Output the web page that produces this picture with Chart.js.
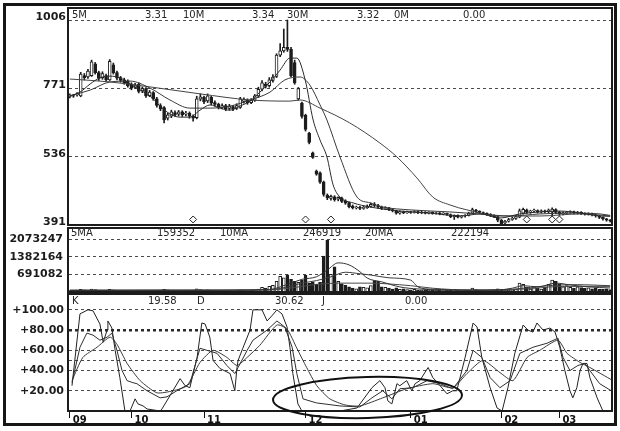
<!DOCTYPE html>
<html><head><meta charset="utf-8">
<script src="https://cdn.jsdelivr.net/npm/chart.js@4.4.1/dist/chart.umd.min.js"></script>
<style>
html,body{margin:0;padding:0;background:#fff;}
#wrap{position:relative;width:620px;height:431px;overflow:hidden;background:#fff;}
canvas{position:absolute;left:0;}
#frame{position:absolute;left:3px;top:3px;width:608px;height:417px;border:3px solid #161616;pointer-events:none;}
</style></head><body>
<div id="wrap">
<canvas id="cPrice" width="620" height="226" style="top:0"></canvas>
<canvas id="cVol" width="620" height="68" style="top:226px"></canvas>
<canvas id="cKdj" width="620" height="139" style="top:292px"></canvas>
<div id="frame"></div>
</div>
<script>
// ---------- DATA ----------
const N = 150; // trading days shown
const openP = [742,746,748,745,815,810,815,855,825,808,
815,800,852,825,808,800,795,785,774,785,
762,770,746,756,735,712,705,668,675,688,
682,690,682,685,676,670,734,740,728,740,
722,716,706,712,702,708,702,705,726,730,
722,730,745,768,786,780,798,812,885,900,
912,905,860,735,720,678,616,549,486,480,
449,404,392,398,390,394,384,378,366,360,
362,358,361,365,372,368,362,358,360,354,
350,342,346,343,346,344,347,343,345,342,
345,341,343,339,341,337,330,334,328,332,
334,342,352,348,344,341,338,334,330,318,
308,314,320,324,328,342,352,345,349,351,
346,350,347,345,354,345,340,343,345,347,
343,345,341,339,340,336,332,327,322,318];
const closeP = [748,744,752,820,808,830,862,825,805,822,
800,864,825,806,798,790,780,772,782,760,
770,745,758,735,712,700,662,680,690,680,
690,680,686,675,668,735,742,725,745,720,
716,706,712,700,710,700,712,735,732,722,
730,745,768,790,778,800,810,885,900,912,
905,815,790,770,674,630,585,533,476,448,
406,394,400,388,396,382,376,364,360,363,
358,362,366,372,368,362,358,360,354,350,
342,347,343,346,344,347,343,345,342,345,
341,343,339,341,337,330,334,328,332,334,
342,354,348,344,341,338,334,330,318,306,
314,320,324,330,350,355,345,349,352,346,
350,347,352,356,344,340,343,345,347,343,
345,341,339,340,336,332,327,322,318,315];
const highP = [752,750,756,826,822,836,868,860,830,828,
820,870,858,830,812,806,800,790,788,790,
776,774,764,760,740,718,708,686,696,694,
695,694,692,690,680,744,752,744,752,744,
728,720,718,716,716,712,718,740,738,735,
736,750,775,798,792,808,818,890,925,975,
1006,912,868,774,724,682,620,552,490,484,
452,408,404,402,398,397,388,380,370,366,
365,366,370,377,378,372,366,364,362,356,
352,350,349,349,348,350,349,348,347,347,
346,345,344,344,342,339,336,336,334,337,
345,359,355,350,346,343,340,336,332,320,
317,324,328,334,356,359,356,352,356,353,
353,352,356,360,357,348,346,348,350,349,
348,347,343,343,342,338,334,329,324,320];
const lowP = [738,740,744,742,800,805,812,820,798,802,
795,798,820,800,792,785,775,766,770,755,
756,740,742,730,706,694,652,662,670,674,
676,674,676,668,658,666,728,718,722,714,
710,700,700,694,696,694,698,702,720,716,
718,726,740,762,772,775,792,808,880,895,
898,810,785,730,668,624,580,530,472,444,
400,388,386,383,384,378,372,360,356,356,
354,355,358,362,364,358,354,354,350,346,
338,338,340,341,341,342,340,340,339,339,
338,338,336,336,334,326,320,325,325,328,
332,340,344,341,338,334,330,326,312,301,
303,311,317,320,326,338,340,341,345,342,
342,343,343,330,340,334,336,339,341,339,
339,337,335,335,332,328,323,318,314,311];

// price moving averages (day index, value)
const ma5Idx = [0,2.8,5.6,8.3,11.1,13.8,16.6,19.4,22.1,24.9,27.6,30.4,33.1,35.9,38.7,41.4,44.2,46.9,49.7,52.4,55.2,58,60.7,62.6,64.9,67.1,69,70.9,72.6,74.5,78.1,82.8,91,99.3,107.6,113.1,118.6,124.1,129.6,135.1,140.7,146.2,149];
const ma5Val = [745,758,786,807,813,807,786,765,745,710,683,672,672,696,714,703,696,710,727,758,793,834,875,875,800,662,593,535,439,397,377,363,349,342,332,339,325,339,346,349,342,332,331];
const ma10Idx = [0,5.6,11.1,16.6,22.1,27.6,33.1,38.7,44.2,49.7,55.2,59.3,63.5,66.2,69,70.9,74.5,79.2,82.8,86.3,93.8,104.8,113.1,121.4,129.6,137.9,146.2,149];
const ma10Val = [745,765,793,796,772,731,703,703,710,731,758,800,810,782,714,662,535,397,377,363,353,346,339,332,339,342,339,334];
const ma30Idx = [0,11.1,22.1,35.9,49.7,60.7,63.5,69,77.2,85.5,90.2,95.7,100.1,104.8,109.5,118.6,129.6,140.7,149];
const ma30Val = [803,793,776,752,731,727,731,703,652,583,535,463,397,370,353,332,332,339,332];
const signalIdx = [34,65,72,126,133,135];

const volume = [60000,55000,70000,110000,90000,80000,120000,95000,70000,60000,
65000,110000,90000,70000,60000,55000,60000,50000,55000,65000,
60000,70000,55000,60000,75000,80000,110000,90000,70000,60000,
55000,50000,60000,55000,70000,130000,100000,80000,90000,70000,
60000,55000,50000,60000,55000,50000,60000,90000,70000,60000,
70000,90000,120000,180000,150000,220000,260000,420000,620000,560000,
680000,500000,420000,380000,460000,670000,350000,400000,300000,380000,
1420000,2050000,700000,990000,420000,320000,260000,200000,150000,130000,
200000,180000,160000,250000,450000,420000,200000,180000,150000,120000,
160000,110000,130000,100000,90000,110000,80000,70000,90000,75000,
65000,80000,70000,60000,75000,90000,110000,70000,60000,65000,
80000,150000,100000,70000,65000,60000,70000,90000,130000,110000,
80000,70000,90000,110000,350000,300000,180000,120000,200000,150000,
120000,180000,300000,470000,420000,320000,200000,250000,180000,150000,
200000,170000,140000,160000,130000,150000,120000,110000,130000,100000];
const volMa5Idx = [0,20,40,55,60,64,68,71,74,77,80,82,86,91,96,110,118,122,125,129,134,138,143,149];
const volMa5Val = [60000,70000,70000,100000,300000,500000,600000,870000,1150000,1070000,800000,550000,400000,200000,120000,70000,80000,150000,250000,200000,350000,280000,200000,159352];
const volMa10Idx = [0,30,55,60,64,68,72,76,80,83,88,94,96,100,115,122,127,133,140,149];
const volMa10Val = [70000,70000,90000,200000,350000,450000,600000,780000,720000,670000,560000,470000,200000,110000,75000,110000,180000,260000,290000,246919];
const volMa20Idx = [0,55,62,68,74,82,94,100,110,120,128,136,149];
const volMa20Val = [70000,80000,180000,300000,350000,350000,250000,150000,80000,80000,150000,220000,222194];

const kIdx = [0.6,2.8,4.7,6.4,8.3,10.3,11.6,13.0,14.4,15.8,17.4,18.5,21.3,24.9,26.8,29.5,33.1,35.9,37.8,40.6,43.3,45.5,46.4,48.9,50.5,54.4,57.1,59.3,61.3,62.6,64.3,68.0,74.5,80.0,83.3,86.3,88.8,91.0,94.6,98.5,102.1,105.6,109.5,111.2,113.6,115.9,118.6,121.4,124.1,127.7,131.6,134.6,136.0,137.9,140.1,142.0,143.4,146.1,149.5];
const kVal = [28,63,77,75,70,73,77,60,40,30,28,27,20,13,14,20,27,62,60,57,45,37,43,60,70,80,89,83,63,37,12,8,5,4,13,20,12,22,23,30,27,22,40,60,53,33,23,30,57,63,67,72,53,40,45,47,40,27,19.58];
const dIdx = [0.6,3.6,7.5,11.1,13.0,15.8,19.4,24.0,28.5,32.3,35.9,39.5,43.3,46.1,48.9,52.4,57.1,59.9,62.6,65.3,68.1,71.7,75.9,80.0,86.3,92.9,100.1,105.6,109.5,113.9,118.6,122.2,126.1,129.6,134.6,137.1,140.7,143.4,149.5];
const dVal = [30,53,63,73,66,47,30,18,20,25,48,60,53,45,53,65,85,81,62,43,25,12,6,5,13,22,27,23,37,50,38,30,53,60,70,57,48,43,30.62];
const jIdx = [0.6,2.8,5.0,6.4,8.3,9.2,10.3,10.5,11.6,12.5,13.8,15.2,16.6,18.0,18.8,20.2,21.3,24.9,25.4,27.6,30.4,31.8,33.1,35.1,36.4,37.3,38.6,39.5,41.4,44.2,45.5,46.1,46.4,47.7,49.7,50.5,53.0,54.4,55.7,57.1,58.5,59.9,60.7,61.5,62.9,64.0,74.5,79.2,83.3,85.5,86.9,87.7,88.8,90.2,91.0,92.9,94.3,95.2,96.5,98.8,100.1,102.1,104.0,105.6,106.7,109.0,111.2,112.3,113.6,115.9,117.8,119.2,120.8,122.7,125.0,126.3,127.7,128.8,130.5,132.4,133.8,135.1,136.5,137.9,138.7,139.8,140.7,141.5,142.6,143.4,145.4,147.0,149.5];
const jVal = [25,96,100,99,86,68,80,89,82,60,33,0,0,12,7,5,2,0,2,15,32,25,23,53,87,86,73,50,42,37,20,43,50,62,80,100,100,89,94,100,96,83,63,37,7,0,0,3,23,30,23,10,7,27,25,30,20,27,30,43,33,25,17,20,20,53,87,83,53,23,3,0,23,57,85,80,78,87,80,82,78,63,40,20,13,23,40,47,47,33,13,0,0];

// axis ticks and texts
const priceTicks = [301,536,771,1006];
const priceTickLabels = ['391','536','771','1006'];
const volTicks = [691082,1382164,2073247];
const kdjTicks = [20,40,50,60,80,100];
const kdjTickLabels = ['+20.00','+40.00','','+60.00','+80.00','+100.00'];
const monthTicks = [0,17,37,65,94,119,135];
const monthLabels = ['09','10','11','12','01','02','03'];
const priceHeader = ['5M','3.31','10M','3.34','30M','3.32','0M','0.00'];
const volHeader = ['5MA','159352','10MA','246919','20MA','222194'];
const kdjHeader = ['K','19.58','D','30.62','J','0.00'];

// ---------- LAYOUT / STYLE ----------
Chart.defaults.font.family = '"DejaVu Sans", sans-serif';
const INK = '#1c1c1c';
const GRID = '#4a4a4a';
const SIGNAL_LEVEL = 320;
const dayIdx = Array.from({length: N}, (_, i) => i);
const pts = (idx, val) => idx.map((x, k) => ({x, y: val[k]}));
const fixW = s => { s.width = 68; s.paddingTop = 0; s.paddingBottom = 0; };

const framePlugin = { id: 'frame', afterDraw(chart) {
  const {ctx, chartArea: a} = chart;
  ctx.save(); ctx.strokeStyle = INK; ctx.lineWidth = 2;
  ctx.strokeRect(a.left, a.top, a.right - a.left, a.bottom - a.top);
  ctx.restore();
}};
function headerPlugin(texts, xs, y, size) {
  return { id: 'hdr', afterDraw(chart) {
    const ctx = chart.ctx; ctx.save();
    ctx.font = size + 'px "DejaVu Sans"'; ctx.fillStyle = '#262626';
    ctx.textBaseline = 'middle'; ctx.textAlign = 'left';
    texts.forEach((t, k) => ctx.fillText(t, xs[k], y));
    ctx.restore();
  }};
}
const ellipsePlugin = { id: 'ellipse', afterDraw(chart) {
  const ctx = chart.ctx; ctx.save();
  ctx.strokeStyle = '#111'; ctx.lineWidth = 2;
  ctx.beginPath(); ctx.ellipse(367.5, 105.5, 94.5, 20.5, -0.025, 0, Math.PI * 2); ctx.stroke();
  ctx.restore();
}};

const baseOpts = (padding) => ({
  responsive: false, animation: false, devicePixelRatio: 1, events: [],
  layout: { padding, autoPadding: false },
  plugins: { legend: { display: false }, tooltip: { enabled: false } }
});
const hiddenX = { type: 'linear', min: -0.5, max: N - 0.5, display: false, offset: false };
const lineDs = (data, color, order) => ({ type: 'line', data, borderColor: color, borderWidth: 1,
  pointRadius: 0, cubicInterpolationMode: 'monotone', order });

// ---------- PRICE PANEL ----------
const upDown = dayIdx.map(i => closeP[i] >= openP[i]);
new Chart(document.getElementById('cPrice'), {
  type: 'bar',
  data: { datasets: [
    lineDs(pts(ma5Idx, ma5Val), '#2a2a2a', 1),
    lineDs(pts(ma10Idx, ma10Val), '#3a3a3a', 1),
    lineDs(pts(ma30Idx, ma30Val), '#444', 1),
    { type: 'line', data: signalIdx.map(i => ({x: i, y: SIGNAL_LEVEL})), showLine: false,
      pointStyle: 'rectRot', pointRadius: 3.5, pointBackgroundColor: '#fff',
      pointBorderColor: '#222', pointBorderWidth: 1, order: 0 },
    { type: 'bar', data: dayIdx.map(i => ({x: i, y: [Math.min(openP[i], closeP[i]), Math.max(openP[i], closeP[i])]})),
      backgroundColor: upDown.map(u => u ? '#fff' : INK), borderColor: INK, borderWidth: 1,
      borderSkipped: false, barThickness: 3, grouped: false, order: 2 },
    { type: 'bar', data: dayIdx.map(i => ({x: i, y: [lowP[i], highP[i]]})),
      backgroundColor: INK, borderWidth: 0, barThickness: 1, grouped: false, order: 3 }
  ]},
  options: Object.assign(baseOpts({left: 0, right: 8, top: 8, bottom: 1}), {
    scales: {
      x: hiddenX,
      y: { min: 301, max: 1047.3, afterFit: fixW,
        afterBuildTicks: s => { s.ticks = priceTicks.map(v => ({value: v})); },
        ticks: { callback: (v, i) => priceTickLabels[i], color: INK, padding: 2, labelOffset: -3,
          font: { family: 'DejaVu Sans', weight: 'bold', size: 11 } },
        grid: { color: GRID, lineWidth: 1, drawTicks: false },
        border: { display: true, color: INK, width: 2, dash: [3, 3] } }
    }
  }),
  plugins: [framePlugin, headerPlugin(priceHeader, [72,145,183,252,287,357,394,463], 15, 10)]
});

// ---------- VOLUME PANEL ----------
new Chart(document.getElementById('cVol'), {
  type: 'bar',
  data: { datasets: [
    lineDs(pts(volMa5Idx, volMa5Val), '#333', 1),
    lineDs(pts(volMa10Idx, volMa10Val), '#3c3c3c', 1),
    lineDs(pts(volMa20Idx, volMa20Val), '#484848', 1),
    { type: 'bar', data: dayIdx.map(i => ({x: i, y: volume[i]})),
      backgroundColor: upDown.map(u => u ? '#fff' : INK), borderColor: INK, borderWidth: 1,
      borderSkipped: false, barThickness: 3, grouped: false, order: 2 }
  ]},
  options: Object.assign(baseOpts({left: 0, right: 8, top: 2, bottom: 2}), {
    scales: {
      x: hiddenX,
      y: { min: 0, max: 2527000, afterFit: fixW,
        afterBuildTicks: s => { s.ticks = volTicks.map(v => ({value: v})); },
        ticks: { callback: v => String(v), color: INK, padding: 5,
          font: { family: 'DejaVu Sans', weight: 'bold', size: 11 } },
        grid: { color: GRID, lineWidth: 1, drawTicks: false },
        border: { display: true, color: INK, width: 2, dash: [3, 3] } }
    }
  }),
  plugins: [framePlugin, headerPlugin(volHeader, [71,157,220,303,365,451], 7, 10)]
});

// ---------- KDJ PANEL ----------
new Chart(document.getElementById('cKdj'), {
  type: 'line',
  data: { datasets: [
    { data: pts(kIdx, kVal), borderColor: '#2e2e2e', borderWidth: 1, pointRadius: 0, tension: 0 },
    { data: pts(dIdx, dVal), borderColor: '#3a3a3a', borderWidth: 1, pointRadius: 0, tension: 0.2 },
    { data: pts(jIdx, jVal), borderColor: '#222', borderWidth: 1, pointRadius: 0, tension: 0 }
  ]},
  options: Object.assign(baseOpts({left: 0, right: 8, top: 2, bottom: 6}), {
    scales: {
      x: { type: 'linear', min: -0.5, max: N - 0.5, offset: false, position: 'bottom',
        afterBuildTicks: s => { s.ticks = monthTicks.map(v => ({value: v})); },
        afterFit: s => { s.height = 14; s.paddingLeft = 0; s.paddingRight = 0; },
        ticks: { callback: (v, i) => monthLabels[i], align: 'start', labelOffset: 3, padding: -4,
          autoSkip: false, maxRotation: 0, color: '#111',
          font: { family: 'DejaVu Sans', weight: 'bold', size: 10 } },
        grid: { drawOnChartArea: false, drawTicks: true, tickLength: 7, tickColor: '#111', tickWidth: 1, offset: false },
        border: { display: false } },
      y: { min: 0, max: 115.65, afterFit: fixW,
        afterBuildTicks: s => { s.ticks = kdjTicks.map(v => ({value: v})); },
        ticks: { callback: (v, i) => kdjTickLabels[i], color: INK, padding: 4,
          font: { family: 'DejaVu Sans', weight: 'bold', size: 11 } },
        grid: { color: ctx => (ctx.tick && ctx.tick.value === 80) ? '#2a2a2a' : GRID,
          lineWidth: ctx => (ctx.tick && ctx.tick.value === 80) ? 2.5 : 1, drawTicks: false },
        border: { display: true, color: INK, width: 2, dash: [3, 3] } }
    }
  }),
  plugins: [framePlugin, ellipsePlugin, headerPlugin(kdjHeader, [72,148,197,275,322,405], 9.5, 10)]
});
</script>
</body></html>
